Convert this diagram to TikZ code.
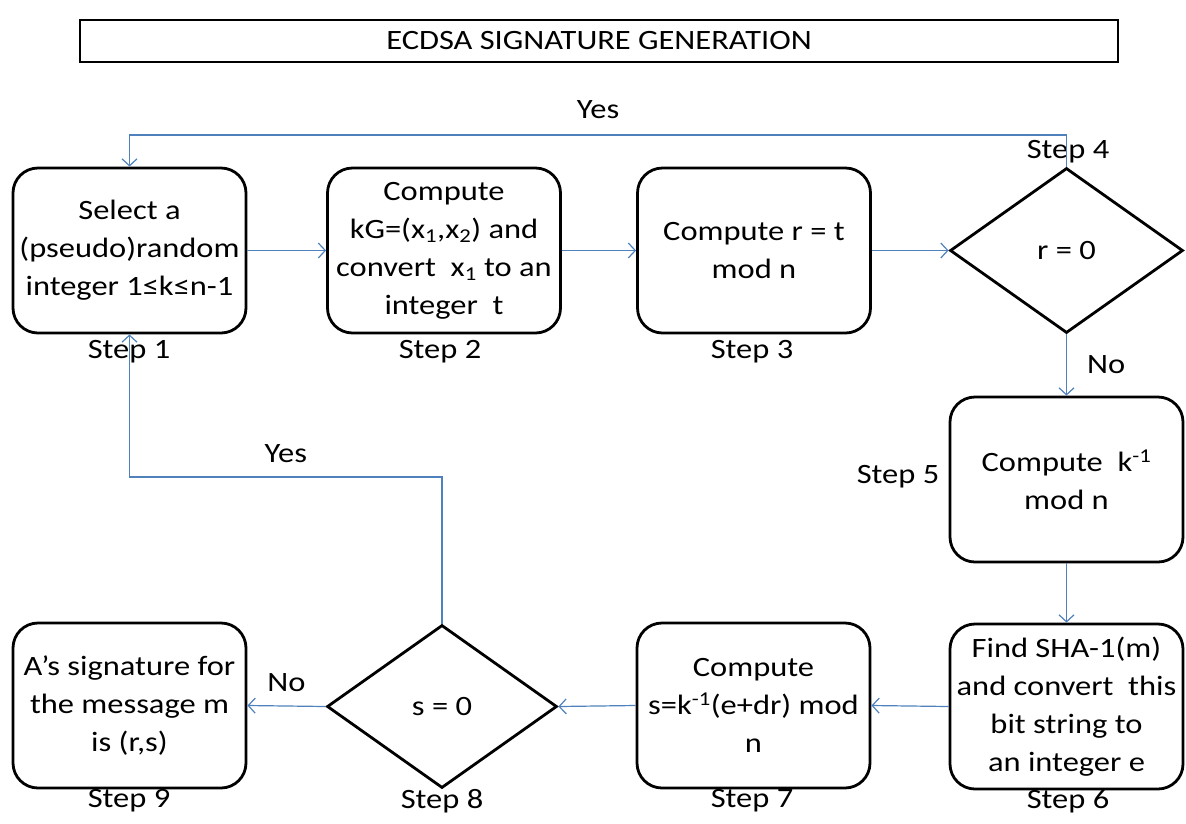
\documentclass[tikz,border=0pt]{standalone}
\usepackage{fontspec}
\setmainfont{Carlito}[FakeStretch=1.16]
\usetikzlibrary{shapes.geometric,arrows.meta}
\definecolor{arrowblue}{RGB}{79,129,189}
\begin{document}
\begin{tikzpicture}[x=1pt,y=-1pt,
  txt/.style={font=\fontsize{28}{38}\selectfont},
  box/.style={txt, draw, line width=2.8pt, rounded corners=25pt, minimum width=233pt, minimum height=165pt, align=center, inner sep=0pt},
  dia/.style={txt, draw, diamond, line width=2.8pt, minimum width=233pt, minimum height=165pt, inner sep=0pt},
  flow/.style={draw=arrowblue, line width=1.2pt, -{Straight Barb[length=7pt,width=15pt]}},
  lbl/.style={txt, inner sep=0pt}]
\useasboundingbox (0,0) rectangle (1186,823);
\node[txt, draw, line width=1.5pt, minimum width=1038pt, minimum height=42pt, inner sep=0pt] (title) at (599,41) {ECDSA SIGNATURE GENERATION};

\node[box] (b1) at (129.5,250.5) {Select a\\(pseudo)random\\integer 1≤k≤n-1};
\node[box] (b2) at (444,250.5) {Compute\\kG=(x\textsubscript{1},x\textsubscript{2}) and\\convert~ x\textsubscript{1} to an\\integer~ t};
\node[box] (b3) at (754,250.5) {Compute r = t\\mod n};
\node[dia] (d4) at (1066.5,250.5) {r = 0};
\node[box] (b5) at (1066.5,479.5) {Compute~ k\textsuperscript{-1}\\mod n};
\node[box] (b6) at (1066.5,706.5) {Find SHA-1(m)\\and convert~ this\\bit string to\\an integer e};
\node[box] (b7) at (753.5,705.5) {Compute\\s=k\textsuperscript{-1}(e+dr) mod\\n};
\node[dia, minimum height=163pt, minimum width=230pt] (d8) at (442,706.5) {s = 0};
\node[box] (b9) at (129.5,705.5) {A’s signature for\\the message m\\is (r,s)};

\node[lbl] (s1) at (129,352) {Step 1};
\node[lbl] (s2) at (440,352) {Step 2};
\node[lbl] (s3) at (752,352) {Step 3};
\node[lbl] (s4) at (1068,152) {Step 4};
\node[lbl] (s5) at (898,477) {Step 5};
\node[lbl] (s6) at (1068,801) {Step 6};
\node[lbl] (s7) at (752,801) {Step 7};
\node[lbl] (s8) at (442,801) {Step 8};
\node[lbl] (s9) at (129,801) {Step 9};

\draw[flow] (b1) -- (b2);
\draw[flow] (b2) -- (b3);
\draw[flow] (b3) -- (d4);
\draw[flow] (d4.south) -- node[lbl, right=20pt] {No} (b5.north);
\draw[flow] (b5) -- (b6);
\draw[flow] (b6.west) -- (b7.east);
\draw[flow] (b7.west) -- (d8.east);
\draw[flow] (d8.west) -- node[lbl, above=14pt] {No} (b9.east);
\coordinate (j1) at (442,477);
\draw[flow] (d8.north) -- (j1) -| node[pos=0.25, lbl, above=14pt] {Yes} (b1.south);
\coordinate (j2) at (1066.5,135);
\draw[flow] (d4.north) -- (j2) -| node[pos=0.25, lbl, above=16pt] {Yes} (b1.north);
\end{tikzpicture}
\end{document}
